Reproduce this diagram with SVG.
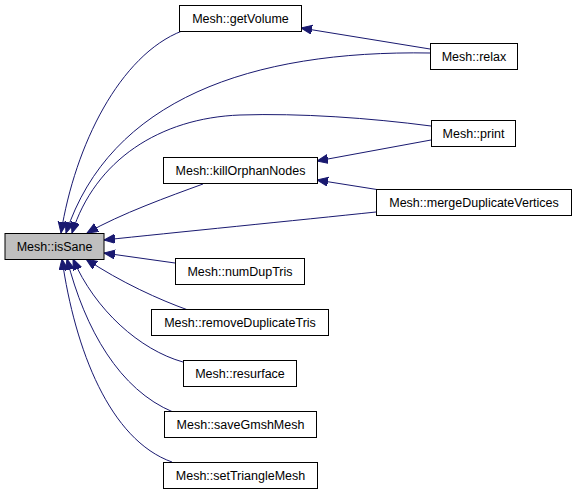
<svg xmlns="http://www.w3.org/2000/svg" width="576" height="493" viewBox="0 0 576 493">
<style>
.n rect{fill:#ffffff;stroke:#000000;stroke-width:1}
.n text{font-family:"Liberation Sans",Arial,sans-serif;font-size:12.5px;text-anchor:middle;fill:#000000}
#isSane rect{fill:#bfbfbf}
.e path{fill:none;stroke:#191970;stroke-width:1;marker-end:url(#ah)}
</style>
<defs>
<marker id="ah" markerUnits="userSpaceOnUse" markerWidth="12" markerHeight="10" refX="11" refY="4.5" orient="auto">
<path d="M0,0 L11,4.5 L0,9 z" fill="#191970" stroke="#191970"/>
</marker>
</defs>
<rect width="576" height="493" fill="#ffffff"/>
<g id="edges" class="e">
<path d="M182,31 C120,55 75,145 61,233"/>
<path d="M430,53 C250,50 110,100 66,233"/>
<path d="M431,126 C370,118 300,113 240,115 C160,118 95,160 72,233"/>
<path d="M203,184 C170,196 120,214 87,233"/>
<path d="M376,212 C300,220 170,233 104,240"/>
<path d="M175,263 L104,253"/>
<path d="M188,310 C160,300 120,282 86,259"/>
<path d="M183,362 C140,350 95,310 73,259"/>
<path d="M173,412 C120,390 85,330 67,259"/>
<path d="M172,462 C110,440 75,350 62,259"/>
<path d="M430,49 L301,28"/>
<path d="M431,140 L317,161"/>
<path d="M380,190 L317,180"/>
</g>
<g id="isSane" class="n"><rect x="5" y="233.5" width="99" height="26"/><text x="54.5" y="251">Mesh::isSane</text></g>
<g id="getVolume" class="n"><rect x="179.5" y="5.5" width="122" height="26"/><text x="240.5" y="23">Mesh::getVolume</text></g>
<g id="relax" class="n"><rect x="430.5" y="43.5" width="87" height="26"/><text x="474" y="61">Mesh::relax</text></g>
<g id="print" class="n"><rect x="431.5" y="120.5" width="84" height="26"/><text x="473.5" y="138">Mesh::print</text></g>
<g id="killOrphanNodes" class="n"><rect x="163.5" y="157.5" width="154" height="26"/><text x="240.5" y="175">Mesh::killOrphanNodes</text></g>
<g id="mergeDuplicateVertices" class="n"><rect x="376.5" y="189.5" width="195" height="26"/><text x="474" y="207">Mesh::mergeDuplicateVertices</text></g>
<g id="numDupTris" class="n"><rect x="175.5" y="258.5" width="129" height="26"/><text x="240" y="276">Mesh::numDupTris</text></g>
<g id="removeDuplicateTris" class="n"><rect x="151.5" y="309.5" width="177" height="26"/><text x="240" y="327">Mesh::removeDuplicateTris</text></g>
<g id="resurface" class="n"><rect x="183.5" y="360.5" width="113" height="26"/><text x="240" y="378">Mesh::resurface</text></g>
<g id="saveGmshMesh" class="n"><rect x="164.5" y="411.5" width="152" height="26"/><text x="240.5" y="429">Mesh::saveGmshMesh</text></g>
<g id="setTriangleMesh" class="n"><rect x="163.5" y="462.5" width="154" height="26"/><text x="240.5" y="480">Mesh::setTriangleMesh</text></g>
</svg>
